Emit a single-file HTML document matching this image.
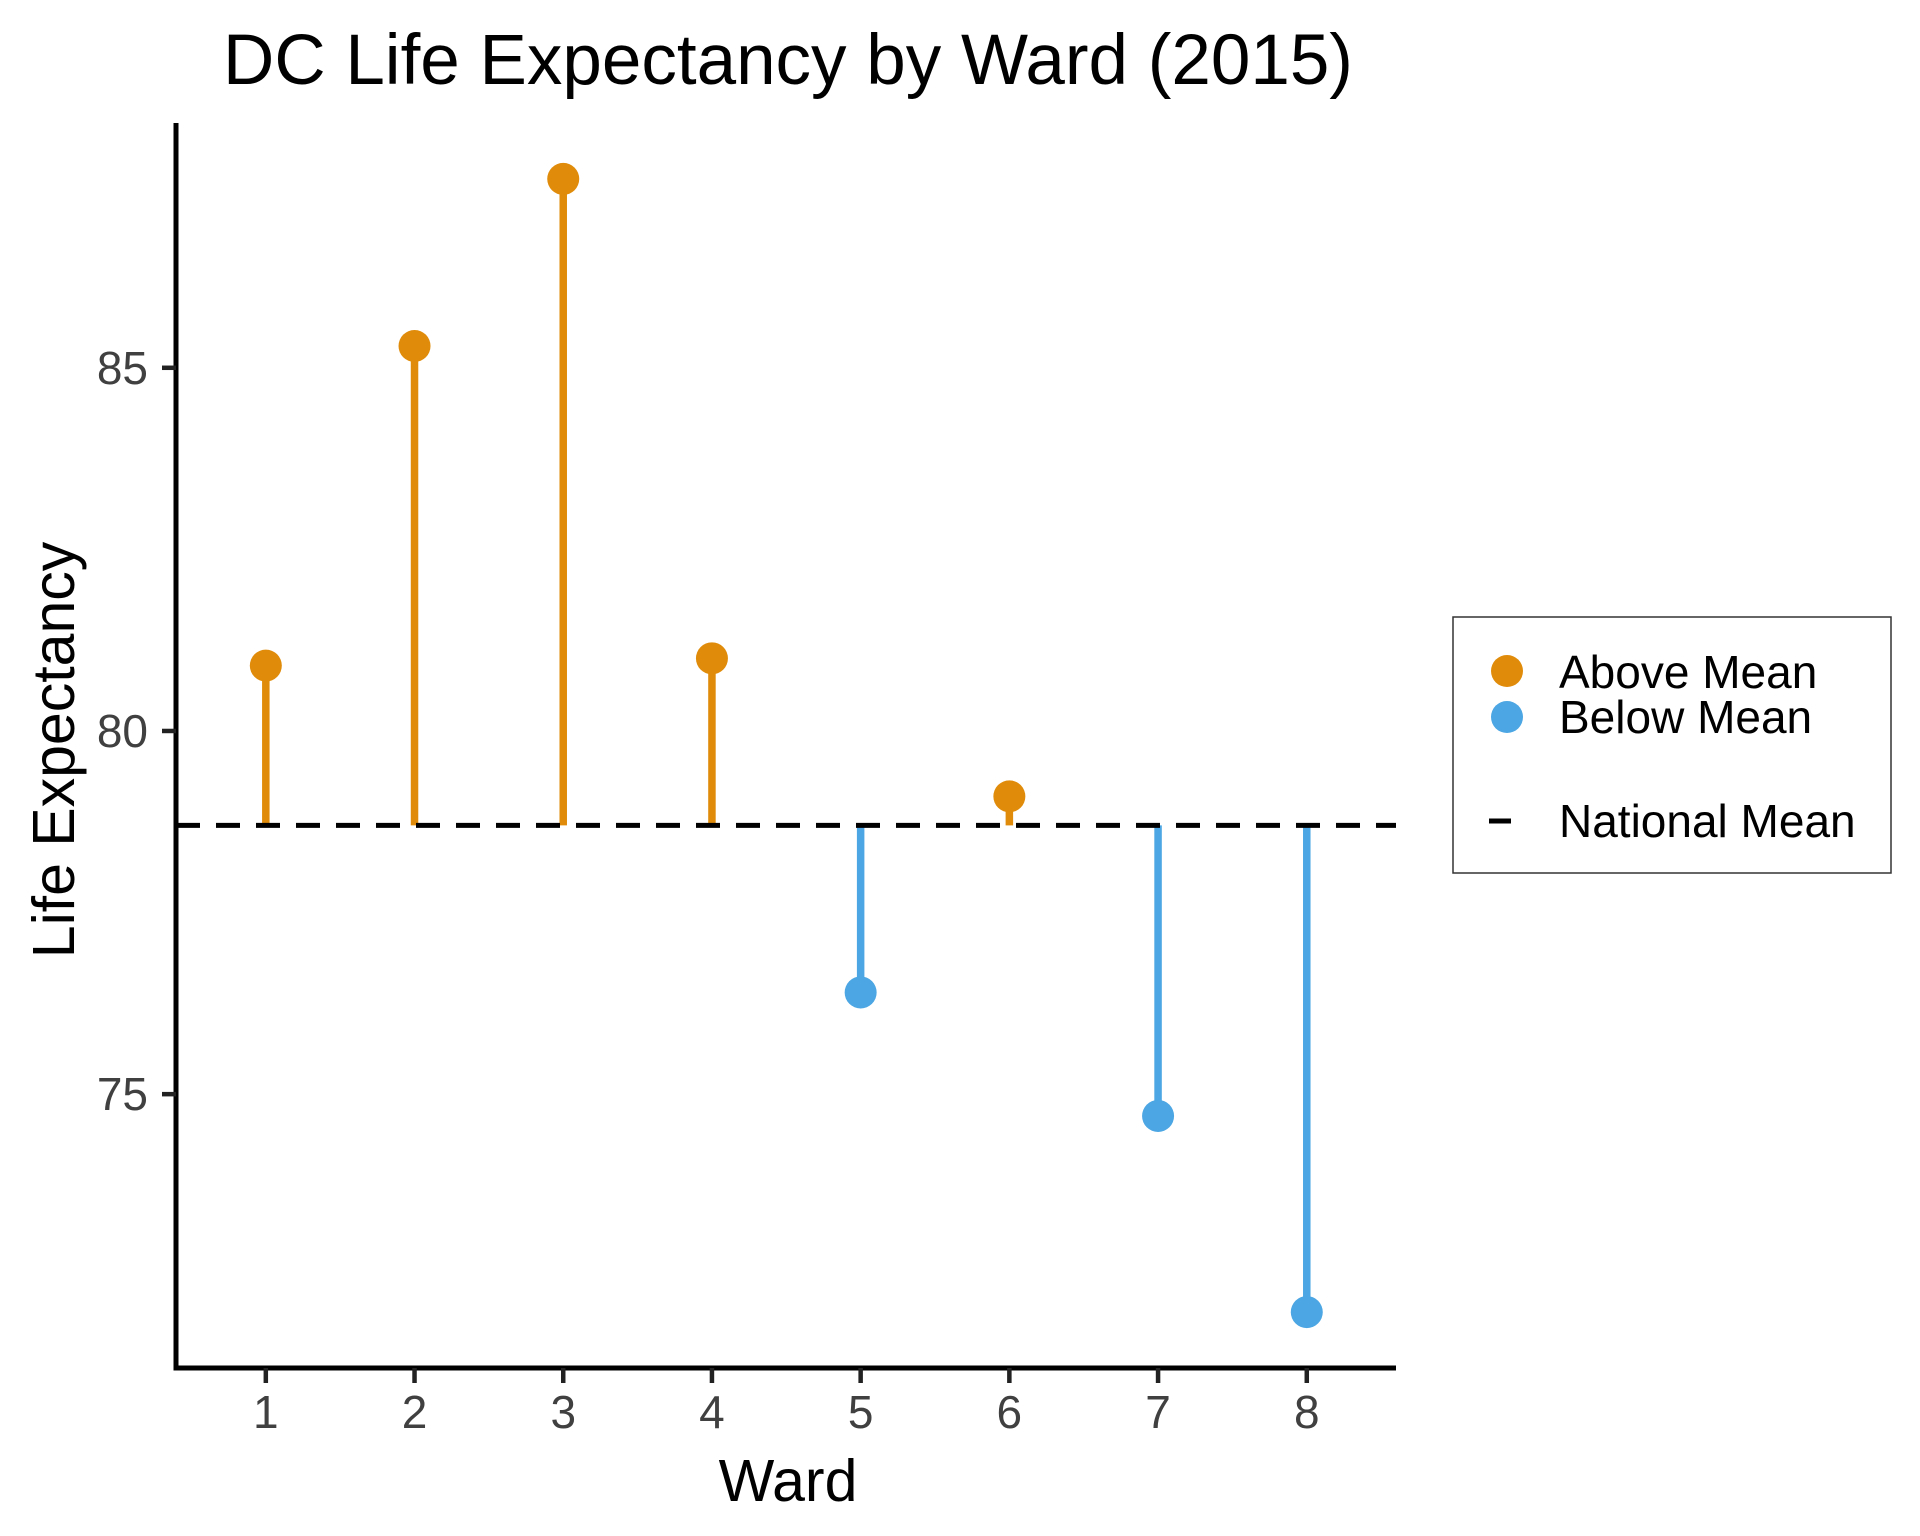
<!DOCTYPE html>
<html><head><meta charset="utf-8"><style>html,body{margin:0;padding:0;background:#fff}svg{display:block}text{font-family:"Liberation Sans",Arial,sans-serif}</style></head>
<body>
<svg id="chart" width="1920" height="1536" viewBox="0 0 1920 1536" xmlns="http://www.w3.org/2000/svg">
<rect width="1920" height="1536" fill="#fff"/>
<text x="788" y="84" font-size="71" text-anchor="middle" fill="#000">DC Life Expectancy by Ward (2015)</text>
<g id="plot"></g>
<text x="788" y="1501" font-size="59" text-anchor="middle" fill="#000">Ward</text>
<text transform="translate(74,750) rotate(-90)" font-size="59" text-anchor="middle" fill="#000">Life Expectancy</text>
<g>
<rect x="1453" y="617" width="438" height="256" fill="#fff" stroke="#333" stroke-width="1.5"/>
<circle cx="1507" cy="671" r="16" fill="#E08C0A"/>
<circle cx="1507" cy="717" r="16" fill="#4BA6E3"/>
<line x1="1489" y1="821" x2="1511" y2="821" stroke="#000" stroke-width="5"/>
<text x="1559" y="688" font-size="46">Above Mean</text>
<text x="1559" y="733" font-size="46">Below Mean</text>
<text x="1559" y="837" font-size="46">National Mean</text>
</g>
</svg>
<script>
const wards = [1,2,3,4,5,6,7,8];
const lifeExp = [80.9,85.3,87.6,81.0,76.4,79.1,74.7,72.0];
const nationalMean = [78.7];
const yTicks = [75,80,85];
const NS='http://www.w3.org/2000/svg';
const g=document.getElementById('plot');
const X0=176,X1=1396,Y0=123,Y1=1368;
const yMin=71.23,yMax=88.37;
const xMin=0.396,xMax=8.6;
function xs(v){return X0+(v-xMin)/(xMax-xMin)*(X1-X0);}
function ys(v){return Y1-(v-yMin)/(yMax-yMin)*(Y1-Y0);}
function mk(t,a){const e=document.createElementNS(NS,t);for(const k in a)e.setAttribute(k,a[k]);g.appendChild(e);return e;}
const m=nationalMean[0];
wards.forEach((w,i)=>{
  const v=lifeExp[i];const c=v>=m?'#E08C0A':'#4BA6E3';
  const s=mk('line',{x1:xs(w),x2:xs(w),y1:ys(m),y2:ys(v),stroke:c,'stroke-width':7.5});
  
  
});
const ml=mk('line',{x1:X0,x2:X1,y1:ys(m),y2:ys(m),stroke:'#000','stroke-width':5,'stroke-dasharray':'24 16'});


wards.forEach((w,i)=>{
  const v=lifeExp[i];const c=v>=m?'#E08C0A':'#4BA6E3';
  const p=mk('circle',{cx:xs(w),cy:ys(v),r:16,fill:c});
  
  
});
const ax=mk('path',{d:`M${X0},${Y0}V${Y1}H${X1}`,fill:'none',stroke:'#000','stroke-width':5});


yTicks.forEach(t=>{
  const l=mk('line',{x1:X0-14,x2:X0,y1:ys(t),y2:ys(t),stroke:'#222','stroke-width':4.5});
  
  
  const tx=mk('text',{x:X0-28,y:ys(t)+16,'font-size':46,'text-anchor':'end',fill:'#404040'});
  tx.textContent=t;
  
  
});
wards.forEach(w=>{
  const l=mk('line',{x1:xs(w),x2:xs(w),y1:Y1,y2:Y1+15,stroke:'#222','stroke-width':4.5});
  
  
  const tx=mk('text',{x:xs(w),y:1428,'font-size':46,'text-anchor':'middle',fill:'#404040'});
  tx.textContent=w;
  
  
});
</script>
</body></html>
